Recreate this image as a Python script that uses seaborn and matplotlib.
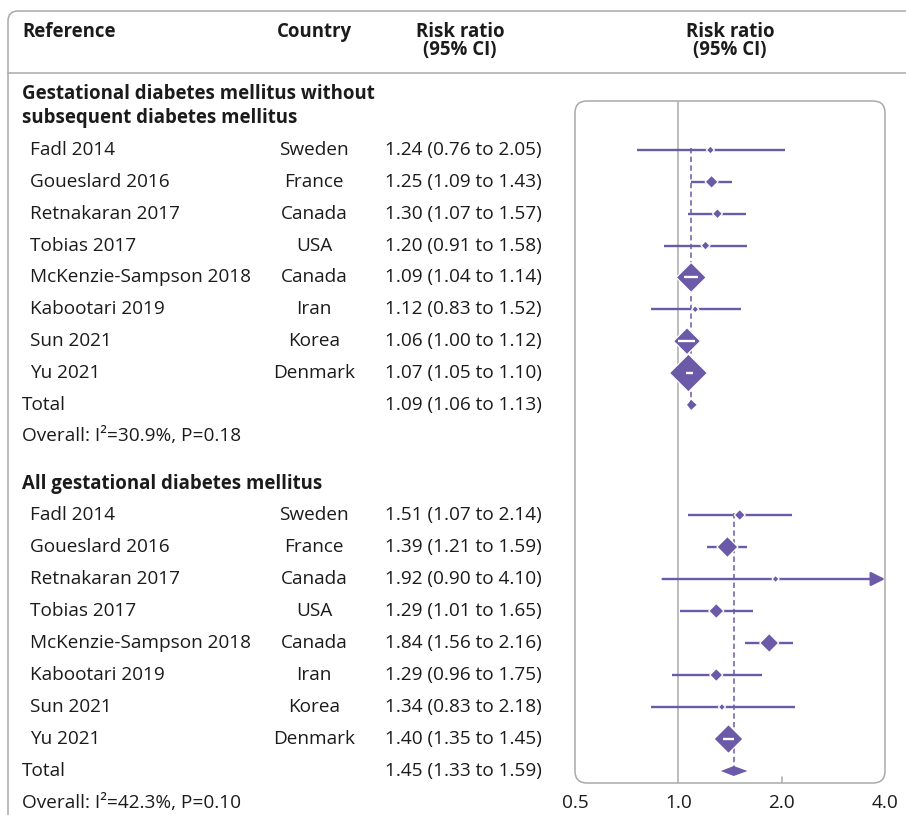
import numpy as np
import matplotlib
matplotlib.use("Agg")
import matplotlib.pyplot as plt
import seaborn as sns
from matplotlib.patches import FancyBboxPatch
from matplotlib.path import Path

# ---- data -------------------------------------------------------------
studies = ["Fadl 2014", "Goueslard 2016", "Retnakaran 2017", "Tobias 2017",
           "McKenzie-Sampson 2018", "Kabootari 2019", "Sun 2021", "Yu 2021"]
countries = ["Sweden", "France", "Canada", "USA", "Canada", "Iran", "Korea", "Denmark"]

# GDM without subsequent diabetes mellitus
g1_rr = [1.24, 1.25, 1.30, 1.20, 1.09, 1.12, 1.06, 1.07]
g1_lo = [0.76, 1.09, 1.07, 0.91, 1.04, 0.83, 1.00, 1.05]
g1_hi = [2.05, 1.43, 1.57, 1.58, 1.14, 1.52, 1.12, 1.10]
g1_weight = [1.8, 4.7, 2.8, 2.3, 25.0, 1.4, 20.3, 40.1]
g1_total = [1.09, 1.06, 1.13]
g1_i2, g1_p = "30.9%", "0.18"

# All GDM
g2_rr = [1.51, 1.39, 1.92, 1.29, 1.84, 1.29, 1.34, 1.40]
g2_lo = [1.07, 1.21, 0.90, 1.01, 1.56, 0.96, 0.83, 1.35]
g2_hi = [2.14, 1.59, 4.10, 1.65, 2.16, 1.75, 2.18, 1.45]
g2_weight = [3.4, 12.3, 1.4, 6.3, 10.0, 4.7, 1.4, 23.4]
g2_total = [1.45, 1.33, 1.59]
g2_i2, g2_p = "42.3%", "0.10"

group_titles = [["Gestational diabetes mellitus without", "subsequent diabetes mellitus"],
                ["All gestational diabetes mellitus"]]
x_ticks = [0.5, 1.0, 2.0, 4.0]
x_ticklabels = ["0.5", "1.0", "2.0", "4.0"]

# ---- style ------------------------------------------------------------
sns.set_theme(style="white")
plt.rcParams["font.family"] = ["Open Sans", "DejaVu Sans"]
PURPLE = "#6a5aa8"
GREY = "#a9a9a9"
TXT = "#1b1b1b"
FS = 13.7
FS_B = 13.4

W, H = 906, 815
fig = plt.figure(figsize=(W / 100, H / 100), dpi=100)

# background axes in pixel units for text and frames
bg = fig.add_axes([0, 0, 1, 1])
bg.set_xlim(0, W)
bg.set_ylim(H, 0)
bg.axis("off")

# forest panel
BX0, BX1, BY0, BY1 = 575, 885, 101, 783
ax = fig.add_axes([BX0 / W, (H - BY1) / H, (BX1 - BX0) / W, (BY1 - BY0) / H])
ax.set_facecolor("none")
for s in ax.spines.values():
    s.set_visible(False)

# outer frame and header separator
bg.add_patch(FancyBboxPatch((8, 11), 1200, 1000, boxstyle="round,pad=0,rounding_size=10",
                            fc="none", ec=GREY, lw=1.1))
bg.plot([8, W], [73, 73], color=GREY, lw=1.1)
# rounded box around the forest panel
bg.add_patch(FancyBboxPatch((BX0, BY0), BX1 - BX0, BY1 - BY0,
                            boxstyle="round,pad=0,rounding_size=12",
                            fc="none", ec=GREY, lw=1.1))

# column headers
hdr = dict(fontsize=FS_B, fontweight="bold", color=TXT)
bg.text(22, 32, "Reference", ha="left", va="center", **hdr)
bg.text(314, 32, "Country", ha="center", va="center", **hdr)
for hx in (460, 730):
    bg.text(hx, 41, "Risk ratio\n(95% CI)", ha="center", va="center",
            multialignment="center", linespacing=0.93, **hdr)

groups = [
    dict(rr=g1_rr, lo=g1_lo, hi=g1_hi, w=g1_weight, tot=g1_total, i2=g1_i2, p=g1_p,
         title_y=[94, 118], row0=150.0, pitch=31.86),
    dict(rr=g2_rr, lo=g2_lo, hi=g2_hi, w=g2_weight, tot=g2_total, i2=g2_i2, p=g2_p,
         title_y=[484], row0=515.0, pitch=32.0),
]

body = dict(fontsize=FS, color=TXT, va="center")
diamond = Path([(0, 1), (1, 0), (0, -1), (-1, 0), (0, 1)], closed=True)

xmin, xmax = x_ticks[0], x_ticks[-1]
ax.set_xscale("log", base=2)
ax.set_xlim(xmin, xmax)
ax.set_ylim(BY1, BY0)
fig.canvas.draw()

def px(v):
    return ax.transData.transform((v, 0))[0]

for gi, g in enumerate(groups):
    for line, ty in zip(group_titles[gi], g["title_y"]):
        bg.text(22, ty, line, ha="left", fontsize=FS_B, fontweight="bold", color=TXT, va="center")
    ys = [g["row0"] + g["pitch"] * i for i in range(len(studies))]
    y_tot = g["row0"] + g["pitch"] * len(studies)
    y_ovr = y_tot + g["pitch"] - 0.5
    for name, ctry, r, lo, hi, y in zip(studies, countries, g["rr"], g["lo"], g["hi"], ys):
        bg.text(30, y, name, ha="left", **body)
        bg.text(314, y, ctry, ha="center", **body)
        bg.text(385, y, f"{r:.2f} ({lo:.2f} to {hi:.2f})", ha="left", **body)
    t, tlo, thi = g["tot"]
    bg.text(22, y_tot, "Total", ha="left", **body)
    bg.text(385, y_tot, f"{t:.2f} ({tlo:.2f} to {thi:.2f})", ha="left", **body)
    bg.text(22, y_ovr, f"Overall: I\u00b2={g['i2']}, P={g['p']}", ha="left", **body)

    # marker width in pixels grows with the square root of the study weight
    widths = [6.0 * np.sqrt(w) for w in g["w"]]
    sizes = [(wd * 0.72) ** 2 for wd in widths]

    # pooled estimate reference (dashed)
    ax.vlines(t, ys[0] - 2, y_tot, colors=PURPLE, lw=1.1, linestyles=(0, (3.5, 2.2)), zorder=1)

    for r, lo, hi, y, wd in zip(g["rr"], g["lo"], g["hi"], ys, widths):
        inside = (px(r) - px(lo) < wd / 2) and (px(hi) - px(r) < wd / 2)
        if hi > xmax:
            ax.annotate("", xy=(xmax, y), xytext=(lo, y),
                        arrowprops=dict(arrowstyle="-|>,head_length=0.7,head_width=0.35",
                                        color=PURPLE, lw=1.7, shrinkA=0, shrinkB=0),
                        zorder=2)
        elif not inside:
            ax.hlines(y, lo, hi, colors=PURPLE, lw=1.7, zorder=2)
        else:
            ax.hlines(y, lo, hi, colors="white", lw=1.7, zorder=5)

    sns.scatterplot(x=g["rr"], y=ys, s=sizes, marker=diamond, color=PURPLE,
                    edgecolor="white", linewidth=0.9, ax=ax, zorder=4, legend=False)

    # pooled diamond
    ax.fill([tlo, t, thi, t], [y_tot, y_tot - 5, y_tot, y_tot + 5],
            color=PURPLE, lw=0, zorder=4)

ax.set_xscale("log", base=2)
ax.set_xlim(xmin, xmax)
ax.set_ylim(BY1, BY0)
ax.axvline(1.0, color=GREY, lw=1.1, zorder=0)
ax.axvline(2.0, ymin=0, ymax=6 / (BY1 - BY0), color=GREY, lw=1.1, zorder=0)
ax.set_xticks(x_ticks)
ax.set_xticklabels(x_ticklabels)
ax.minorticks_off()
ax.set_yticks([])
ax.tick_params(axis="x", length=0, pad=8, labelsize=FS, labelcolor=TXT)
ax.set_xlabel("")
ax.set_ylabel("")

fig.savefig("out.png", dpi=100)
